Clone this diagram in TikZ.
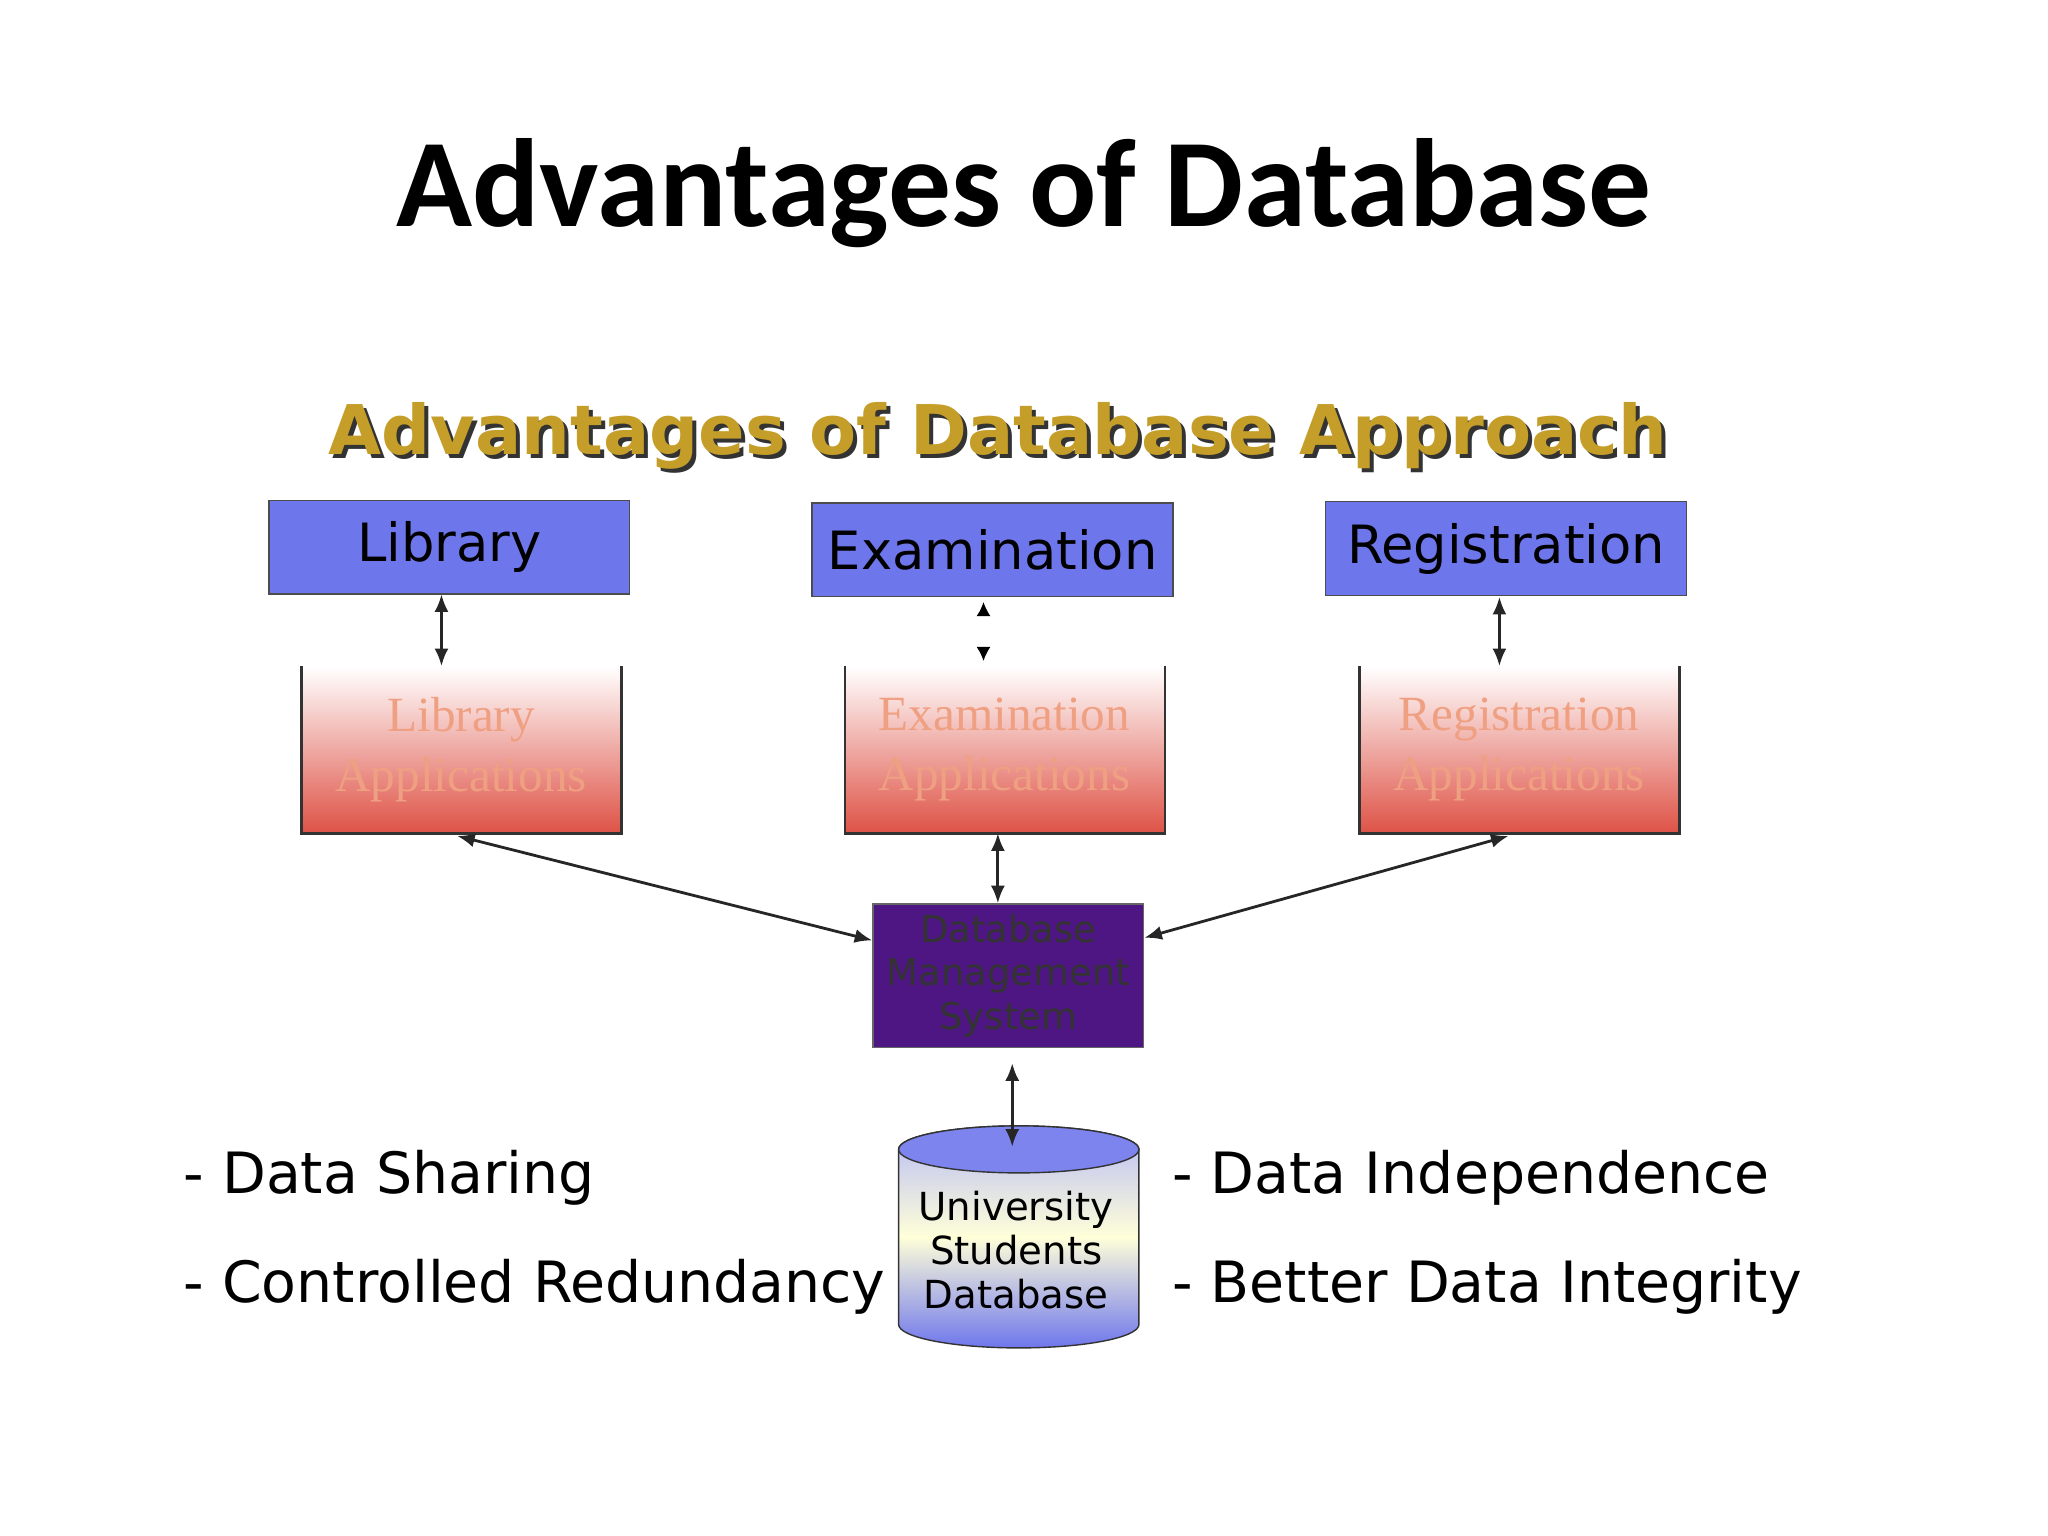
\documentclass[tikz,border=0pt]{standalone}
\usepackage{fontspec}
\setmainfont{DejaVu Sans}
\newfontfamily\titlefont{Carlito}
\newfontfamily\serifapp{Liberation Serif}
\usetikzlibrary{arrows.meta}
\definecolor{boxblue}{RGB}{110,118,236}
\definecolor{appred}{RGB}{222,82,70}
\definecolor{apptext}{RGB}{240,160,130}
\definecolor{dbms}{RGB}{78,22,130}
\definecolor{gold}{RGB}{196,158,40}
\tikzset{
 topbox/.style={draw=black!70,fill=boxblue,minimum width=102.7pt,minimum height=26.7pt,inner sep=0pt,font=\fontsize{15}{15}\selectfont},
 arr/.style={{Latex[length=5pt,width=4pt]}-{Latex[length=5pt,width=4pt]},black!85,line width=0.8pt},
 bullet/.style={anchor=west,font=\fontsize{16.2}{16.2}\selectfont,inner sep=0pt},
}
\begin{document}
\begin{tikzpicture}[x=0.01306cm,y=-0.01306cm]
\useasboundingbox (0,0) rectangle (1568,1176);
\node[font=\titlefont\bfseries\fontsize{35.7}{36}\selectfont] (title) at (784,148) {Advantages of Database};
\node[font=\bfseries\fontsize{19.5}{19.5}\selectfont,text=black!80] at (767,337) {Advantages of Database Approach};
\node[font=\bfseries\fontsize{19.5}{19.5}\selectfont,text=gold] (sub) at (764,334) {Advantages of Database Approach};
% top boxes
\node[topbox] (lib) at (344,419) {Library};
\node[topbox] (exa) at (760,421) {Examination};
\node[topbox] (reg) at (1153,420) {Registration};
% application boxes
\foreach \n/\x/\t in {libapp/231/Library,exaapp/647/Examination,regapp/1041/Registration}{
  \shade[top color=white,bottom color=appred,middle color=white!50!appred] (\x,510) rectangle ++(245,128);
  \draw[black!80,line width=0.8pt] (\x,510) -- (\x,638) -- ++(245,0) -- ++(0,-128);
  \node[align=center,text=apptext,font=\serifapp\fontsize{14}{17}\selectfont] (\n) at (\x+122,574) {\t\\Applications};
}
\coordinate (libappB) at (350,640);
\coordinate (exaappB) at (764,638);
\coordinate (regappB) at (1155,640);
% DBMS
\node[draw=black!60,fill=dbms,minimum width=77pt,minimum height=40.8pt,inner sep=0pt,align=center,text=black!80,font=\fontsize{10.5}{12.3}\selectfont] (dbms) at (772,747) {Database\\Management\\System};
% cylinder
\shade[top color=boxblue!50,bottom color=boxblue,middle color=white!85!yellow,draw=black!80]
  (688,880) -- (688,1014) arc[start angle=180,end angle=0,x radius=92,y radius=18] -- (872,880) arc[start angle=0,end angle=-180,x radius=92,y radius=18] -- cycle;
\draw[black!80,fill=boxblue!90] (780,880) ellipse[x radius=92,y radius=18];
\node[align=center,font=\fontsize{11}{12.5}\selectfont] (db) at (778,957) {University\\Students\\Database};
% arrows
\draw[arr] (338,455) -- (338,510);
\draw[arr] (1148,457) -- (1148,510);
\draw[-{Latex[length=4pt,width=4pt]},black] (753,466) -- (753,461);
\draw[-{Latex[length=4pt,width=4pt]},black] (753,501) -- (753,506);
\draw[arr] (exaappB) -- (dbms.north -| exaappB);
\draw[arr] (libappB) -- (dbms.west |- 0,720);
\draw[arr] (regappB) -- (dbms.east |- 0,718);
\draw[arr] (775,814) -- (775,878);
% bullets
\node[bullet] (b1) at (140,902) {- Data Sharing};
\node[bullet] (b2) at (140,985) {- Controlled Redundancy};
\node[bullet] (b3) at (897,902) {- Data Independence};
\node[bullet] (b4) at (897,985) {- Better Data Integrity};
\end{tikzpicture}
\end{document}
